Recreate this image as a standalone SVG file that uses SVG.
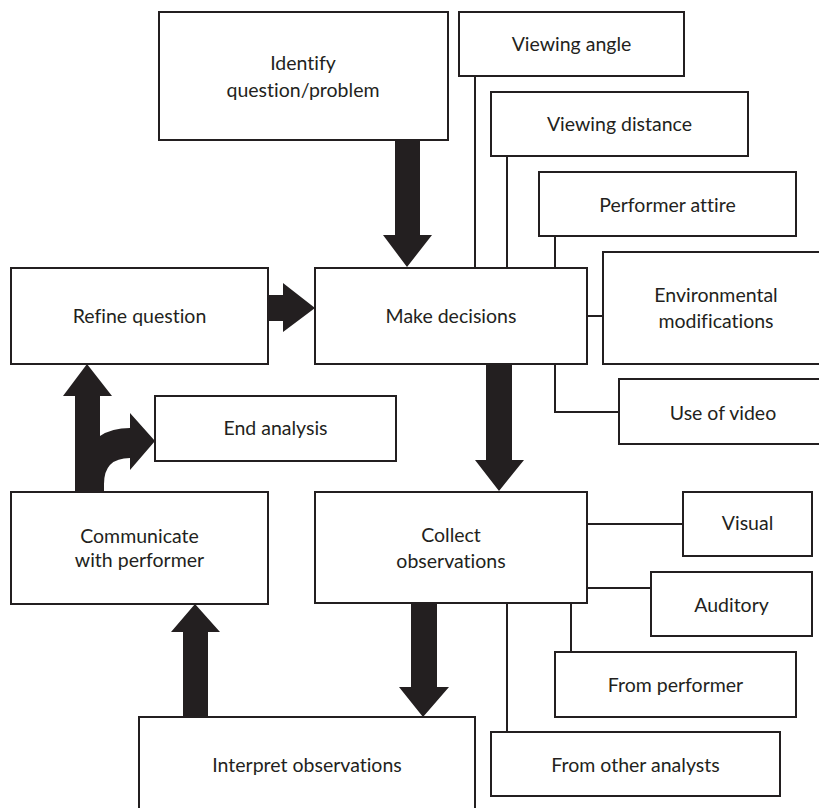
<svg xmlns="http://www.w3.org/2000/svg" width="819" height="808" viewBox="0 0 819 808">
<style>
.box{fill:#fff;stroke:#231f20;stroke-width:2}
.ln{fill:none;stroke:#231f20;stroke-width:2}
.ar{fill:#231f20;stroke:none}
text{font-family:Lato,"Open Sans","Liberation Sans",sans-serif;font-size:19.5px;fill:#231f20;text-anchor:middle;font-variant-ligatures:none;font-feature-settings:"liga" 0}
</style>
<rect width="819" height="808" fill="#fff"/>
<g id="connectors">
<path class="ln" d="M475,76V268M507,156V268M555,236V268M587,316H603M555,364V412H619M587,524H683M587,588H651M571,603V652M507,603V732"/>
<path class="ar" d="M395,140H420V235H432L407,267L383,235H395Z"/>
<path class="ar" d="M268,295H283V283L315,308L283,332V321H268Z"/>
<path class="ar" d="M486,364H512V460H524L499,491L475,460H486Z"/>
<path class="ar" d="M411,603H437V687H449L423,717L399,687H411Z"/>
<path class="ar" d="M183,717H208V632H220L195,604L171,632H183Z"/>
<path class="ar" d="M75,492V396H63L87,364L112,396H100V436Q112,428 130,428V413L155,441L130,470V458Q104,458 104,484V492Z"/>
</g>
<g id="identify"><rect class="box" x="159" y="12" width="289" height="128"/><text x="303" y="70">Identify</text><text x="303" y="97">question/problem</text></g>
<g id="refine"><rect class="box" x="11" y="268" width="257" height="96"/><text x="139.5" y="323">Refine question</text></g>
<g id="make"><rect class="box" x="315" y="268" width="272" height="96"/><text x="451" y="323">Make decisions</text></g>
<g id="angle"><rect class="box" x="459" y="12" width="225" height="64"/><text x="571.5" y="51">Viewing angle</text></g>
<g id="distance"><rect class="box" x="491" y="92" width="257" height="64"/><text x="619.5" y="131">Viewing distance</text></g>
<g id="attire"><rect class="box" x="539" y="172" width="257" height="64"/><text x="667.5" y="212">Performer attire</text></g>
<g id="env"><rect class="box" x="603" y="252" width="230" height="112"/><text x="716" y="302">Environmental</text><text x="716" y="328">modifications</text></g>
<g id="video"><rect class="box" x="619" y="379" width="210" height="65"/><text x="723" y="420">Use of video</text></g>
<g id="end"><rect class="box" x="155" y="396" width="241" height="65"/><text x="275.5" y="435">End analysis</text></g>
<g id="communicate"><rect class="box" x="11" y="492" width="257" height="112"/><text x="139.5" y="543">Communicate</text><text x="139.5" y="567">with performer</text></g>
<g id="collect"><rect class="box" x="315" y="492" width="272" height="111"/><text x="451" y="542">Collect</text><text x="451" y="568">observations</text></g>
<g id="visual"><rect class="box" x="683" y="492" width="129" height="64"/><text x="747.5" y="530">Visual</text></g>
<g id="auditory"><rect class="box" x="651" y="572" width="161" height="64"/><text x="731.5" y="612">Auditory</text></g>
<g id="fromperformer"><rect class="box" x="555" y="652" width="241" height="65"/><text x="675.5" y="692">From performer</text></g>
<g id="fromanalysts"><rect class="box" x="491" y="732" width="289" height="64"/><text x="635.5" y="772">From other analysts</text></g>
<g id="interpret"><rect class="box" x="139" y="717" width="336" height="100"/><text x="307" y="772">Interpret observations</text></g>
</svg>
